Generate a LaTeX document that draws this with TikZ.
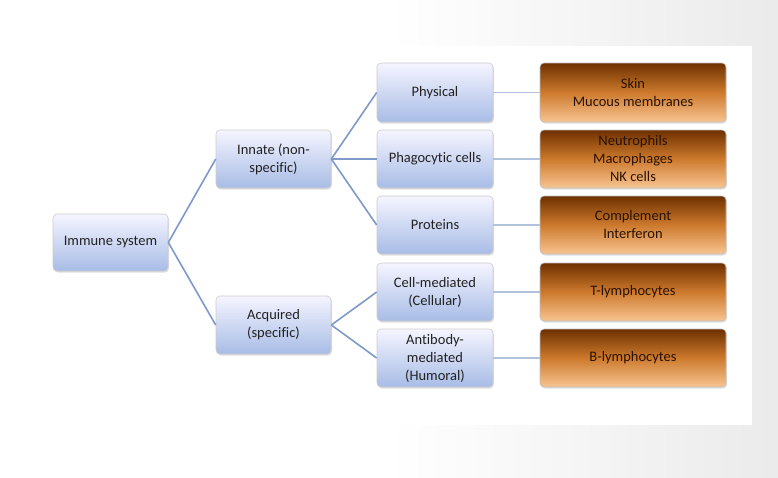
\documentclass[tikz,border=0pt]{standalone}
\usepackage{fontspec}
\setmainfont{Carlito}[Ligatures=NoCommon]
\usetikzlibrary{shadows}
\definecolor{txt}{HTML}{222222}
\definecolor{ltxt}{HTML}{2A1200}
\definecolor{conA}{HTML}{7F99C9}
\definecolor{conB}{HTML}{B2C1DC}
\pgfdeclarehorizontalshading{bgsh}{100bp}{color(0bp)=(white); color(50bp)=(white); color(75bp)=(black!8); color(100bp)=(black!8)}
\tikzset{
  bluebox/.style={rounded corners=4pt, draw=black!20, line width=0.6pt, top color=blue!4!white, bottom color={rgb,255:red,168;green,188;blue,230},
    align=center, text=txt, font=\fontsize{14.5}{18}\selectfont, inner sep=2pt,
    drop shadow={shadow xshift=1pt, shadow yshift=-1.5pt, opacity=0.25}},
  orbox/.style={rounded corners=4pt, draw=black!25, line width=0.6pt, top color={rgb,255:red,110;green,48;blue,0}, bottom color={rgb,255:red,248;green,196;blue,145}, middle color={rgb,255:red,205;green,122;blue,45},
    align=center, text=ltxt, font=\fontsize{14.5}{18}\selectfont, inner sep=2pt, minimum width=186pt,
    drop shadow={shadow xshift=1pt, shadow yshift=-1.5pt, opacity=0.25}},
  linkA/.style={draw=conA, line width=1.6pt},
  linkB/.style={draw=conB, line width=1.8pt}
}
\begin{document}
\begin{tikzpicture}[x=1pt,y=-1pt]
\shade[shading=bgsh] (0,0) rectangle (778,477);
\fill[white] (0,46) rectangle (752,425);
\useasboundingbox (0,0) rectangle (778,477);
% level 0
\node[bluebox, minimum width=115pt, minimum height=57pt] (imm) at (110.5,242.5) {Immune system};
% level 1
\node[bluebox, minimum width=115pt, minimum height=58pt] (inn) at (273.5,159) {Innate (non-\\specific)};
\node[bluebox, minimum width=115pt, minimum height=58pt] (acq) at (273.5,325) {Acquired\\(specific)};
% level 2
\node[bluebox, minimum width=116pt, minimum height=59pt] (phy) at (435,92.5) {Physical};
\node[bluebox, minimum width=116pt, minimum height=58pt] (pha) at (435,159) {Phagocytic cells};
\node[bluebox, minimum width=116pt, minimum height=58pt] (pro) at (435,225) {Proteins};
\node[bluebox, minimum width=116pt, minimum height=58pt] (cel) at (435,292) {Cell-mediated\\(Cellular)};
\node[bluebox, minimum width=116pt, minimum height=58pt] (ant) at (435,358) {Antibody-\\mediated\\(Humoral)};
% level 3
\node[orbox, minimum height=59pt] (skin) at (633,92.5) {Skin\\Mucous membranes};
\node[orbox, minimum height=58pt] (neu) at (633,159) {Neutrophils\\Macrophages\\NK cells};
\node[orbox, minimum height=58pt] (com) at (633,225) {Complement\\Interferon};
\node[orbox, minimum height=58pt] (tly) at (633,292) {T-lymphocytes};
\node[orbox, minimum height=58pt] (bly) at (633,358) {B-lymphocytes};
% connectors
\draw[linkA] (imm.east) -- (inn.west);
\draw[linkA] (imm.east) -- (acq.west);
\draw[linkA] (inn.east) -- (phy.west);
\draw[linkA] (inn.east) -- (pha.west);
\draw[linkA] (inn.east) -- (pro.west);
\draw[linkA] (acq.east) -- (cel.west);
\draw[linkA] (acq.east) -- (ant.west);
\draw[linkB] (phy.east) -- (skin.west);
\draw[linkB] (pha.east) -- (neu.west);
\draw[linkB] (pro.east) -- (com.west);
\draw[linkB] (cel.east) -- (tly.west);
\draw[linkB] (ant.east) -- (bly.west);
\end{tikzpicture}
\end{document}
